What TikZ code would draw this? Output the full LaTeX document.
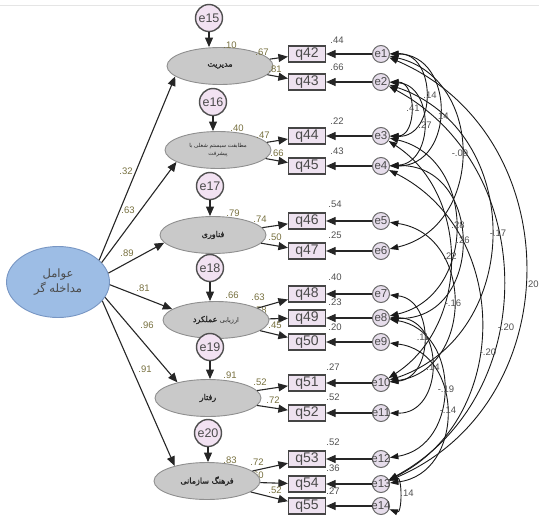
\documentclass[tikz,border=0pt]{standalone}
\usepackage{fontspec}
\setmainfont{Liberation Sans}
\newfontfamily\fa[Script=Arabic]{DejaVu Sans}
\newfontfamily\fab[Script=Arabic,FakeBold=1.6]{DejaVu Sans}
\TeXXeTstate=1
\usetikzlibrary{shapes.geometric,arrows.meta,calc}

\definecolor{latfill}{HTML}{C9C9C9}
\definecolor{latdraw}{HTML}{8F8F8F}
\definecolor{bigfill}{HTML}{9DBDE5}
\definecolor{bigdraw}{HTML}{7896C3}
\definecolor{errfill}{HTML}{F2E2F2}
\definecolor{errdraw}{HTML}{505050}
\definecolor{efill}{HTML}{E6DDEB}
\definecolor{edraw}{HTML}{6A6A6A}
\definecolor{rfill}{HTML}{EEE2F0}
\definecolor{rdraw}{HTML}{454545}
\definecolor{txt}{HTML}{4A4A4A}
\definecolor{numc}{HTML}{505050}
\definecolor{olivec}{HTML}{77703F}

% covariance arc between two residuals on the right-hand column:
% #1,#2 node names, #3,#4 their y positions, #5 bulge to the right
\newcommand\covarc[5]{%
  \pgfmathsetmacro\cvd{#4-#3}%
  \pgfmathsetmacro\cvt{2*#5/\cvd}%
  \pgfmathsetmacro\cvx{4*#5/3}%
  \pgfmathsetmacro\cvy{\cvd*(1-\cvt*\cvt)/3}%
  \pgfmathsetmacro\cvyn{-\cvy}%
  \draw[cov] (#1) .. controls ($(#1)+(\cvx,\cvy)$) and ($(#2)+(\cvx,\cvyn)$) .. (#2);%
}

\begin{document}
\begin{tikzpicture}[x=1pt,y=-1pt,
  lat/.style={ellipse, draw=latdraw, line width=0.9pt, fill=latfill,
    minimum width=106pt, minimum height=37pt, inner sep=0pt,
    font=\fontsize{8}{10}\selectfont\fab, text=black!85, align=center},
  bigell/.style={ellipse, draw=bigdraw, line width=0.9pt, fill=bigfill,
    minimum width=103pt, minimum height=71pt, inner sep=0pt,
    font=\fontsize{11.5}{15}\selectfont\fa, text=txt, align=center},
  errbig/.style={circle, draw=errdraw, line width=1.4pt, fill=errfill,
    minimum size=27pt, inner sep=0pt, font=\fontsize{12.5}{13}\selectfont, text=txt},
  errsm/.style={circle, draw=edraw, line width=1pt, fill=efill,
    minimum size=17pt, inner sep=0pt, font=\fontsize{11.5}{12}\selectfont, text=txt},
  obs/.style={rectangle, draw=rdraw, line width=1.2pt, fill=rfill,
    minimum width=37pt, minimum height=16pt, inner sep=0pt,
    font=\fontsize{14}{14}\selectfont, text=txt},
  pth/.style={draw=black!85, line width=1.1pt, -{Triangle[length=9.5pt,width=8pt]}},
  cov/.style={draw=black!90, line width=0.9pt,
    {Triangle[length=8.5pt,width=6pt]}-{Triangle[length=8.5pt,width=6pt]}},
  num/.style={font=\fontsize{9.5}{10}\selectfont, text=numc, inner sep=0pt},
  onum/.style={num, text=olivec}
]
\useasboundingbox (0,0) rectangle (539,515);
\draw[black!10, line width=0.6pt] (0,5) -- (539,5);

% loadings partly covered by their factor ellipses
\node[onum] (l49) at (260,310) {.58};
\node[onum] (l54) at (257,475) {.60};

% exogenous factor
\node[bigell] (big) at (58,282) {\beginR عوامل\endR\\ \beginR مداخله گر\endR};

% first-order factors
\node[lat] (lat1) at (220,66) {\beginR مدیریت\endR};
\node[lat, font=\fontsize{5.5}{8}\selectfont\fa] (lat2) at (218,150)
  {\beginR مطابقت سیستم شغلی با\endR\\ \beginR پیشرفت\endR};
\node[lat] (lat3) at (213,235) {\beginR فناوری\endR};
\node[lat] (lat4) at (216,320) {\beginR{\fa\fontsize{6.5}{8}\selectfont ارزیابی} عملکرد\endR};
\node[lat] (lat5) at (208,398) {\beginR رفتار\endR};
\node[lat] (lat6) at (207,481) {\beginR فرهنگ سازمانی\endR};

% disturbances
\node[errbig] (e15) at (209,18) {e15};
\node[errbig] (e16) at (213,102) {e16};
\node[errbig] (e17) at (210,186) {e17};
\node[errbig] (e18) at (210,268) {e18};
\node[errbig] (e19) at (210,347) {e19};
\node[errbig] (e20) at (208,433) {e20};

% observed items
\foreach \q/\y in {42/54,43/82,44/136,45/166,46/221,47/251,48/294,49/318,50/342,51/383,52/413,53/459,54/484,55/506}
  \node[obs] (q\q) at (307,\y) {q\q};

% item residuals
\foreach \i/\y in {1/54,2/82,3/136,4/166,5/221,6/251,7/294,8/318,9/342,10/383,11/413,12/459,13/484,14/506}
  \node[errsm] (e\i) at (381,\y) {\makebox[0pt]{e\i}};

% structural paths
\draw[pth] (big.28) -- (lat1.193);
\draw[pth] (big.24) -- (lat2.196);
\draw[pth] (big.10) -- (lat3.189);
\draw[pth] (big.-3) -- (lat4.166);
\draw[pth] (big.-18) -- (lat5.153);
\draw[pth] (big.-23) -- (lat6.155);

% disturbance paths
\draw[pth] (e15) -- (e15 |- lat1.north);
\draw[pth] (e16) -- (e16 |- lat2.north);
\draw[pth] (e17) -- (e17 |- lat3.north);
\draw[pth] (e18) -- (e18 |- lat4.north);
\draw[pth] (e19) -- (e19 |- lat5.north);
\draw[pth] (e20) -- (e20 |- lat6.north);

% factor loadings
\draw[pth] (lat1) -- (q42);
\draw[pth] (lat1) -- (q43);
\draw[pth] (lat2) -- (q44);
\draw[pth] (lat2) -- (q45);
\draw[pth] (lat3) -- (q46);
\draw[pth] (lat3) -- (q47);
\draw[pth] (lat4) -- (q48);
\draw[pth] (lat4) -- (q49);
\draw[pth] (lat4) -- (q50);
\draw[pth] (lat5) -- (q51);
\draw[pth] (lat5) -- (q52);
\draw[pth] (lat6) -- (q53);
\draw[pth] (lat6) -- (q54);
\draw[pth] (lat6) -- (q55);

% residual paths
\foreach \i/\q in {1/42,2/43,3/44,4/45,5/46,6/47,7/48,8/49,9/50,10/51,11/52,12/53,13/54,14/55}
  \draw[pth] (e\i) -- (q\q);

% residual covariances
\covarc{e1}{e3}{54}{136}{42}
\covarc{e2}{e3}{82}{136}{27}
\covarc{e2}{e4}{82}{166}{40}
\covarc{e1}{e4}{54}{166}{56}
\covarc{e1}{e6}{54}{251}{78}
\covarc{e5}{e10}{221}{383}{70}
\covarc{e7}{e10}{294}{383}{40}
\covarc{e9}{e13}{342}{484}{63}
\covarc{e8}{e12}{318}{459}{60}
\covarc{e8}{e11}{318}{413}{48}
\covarc{e13}{e14}{484}{506}{16}
\covarc{e3}{e8}{136}{318}{72}
\covarc{e4}{e8}{166}{318}{78}
\covarc{e3}{e10}{136}{383}{67}
\covarc{e2}{e10}{82}{383}{108}
\covarc{e1}{e13}{54}{484}{142}
\covarc{e2}{e13}{82}{484}{120}
\covarc{e4}{e13}{166}{484}{98}

% squared multiple correlations of items
\foreach \v/\x/\y in {.44/337/40,.66/337/67,.22/337/121,.43/337/151,.54/335/204,.25/335/235,
  .40/335/277,.23/335/302,.20/335/327,.27/333/367,.52/333/397,.52/333/442,.36/333/468,.27/333/491}
  \node[num] at (\x,\y) {\v};

% loadings
\foreach \v/\x/\y in {.67/262/52,.81/275/69,.47/263/135,.66/277/153,.74/260/219,.50/275/237,
  .63/258/297,.45/275/325,.52/260/382,.72/273/400,.72/257/462,.52/275/490}
  \node[onum] at (\x,\y) {\v};

% squared multiple correlations of factors
\foreach \v/\x/\y in {.10/230/45,.40/237/128,.79/233/213,.66/232/295,.91/230/375,.83/230/460}
  \node[onum] at (\x,\y) {\v};

% structural coefficients
\foreach \v/\x/\y in {.32/126/171,.63/128/210,.89/127/253,.81/143/288,.96/147/325,.91/145/369}
  \node[onum] at (\x,\y) {\v};

% covariance values
\foreach \v/\x/\y in {.14/430/95,.41/413/108,.14/442/116,.27/425/125,-.09/460/153,.28/458/225,
  .26/463/240,-.17/498/233,.22/450/256,.20/532/284,-.16/453/303,-.20/506/327,.11/423/337,
  .14/433/367,-.20/488/352,-.19/446/389,-.14/448/410,.14/407/493}
  \node[num] at (\x,\y) {\v};
\end{tikzpicture}
\end{document}
